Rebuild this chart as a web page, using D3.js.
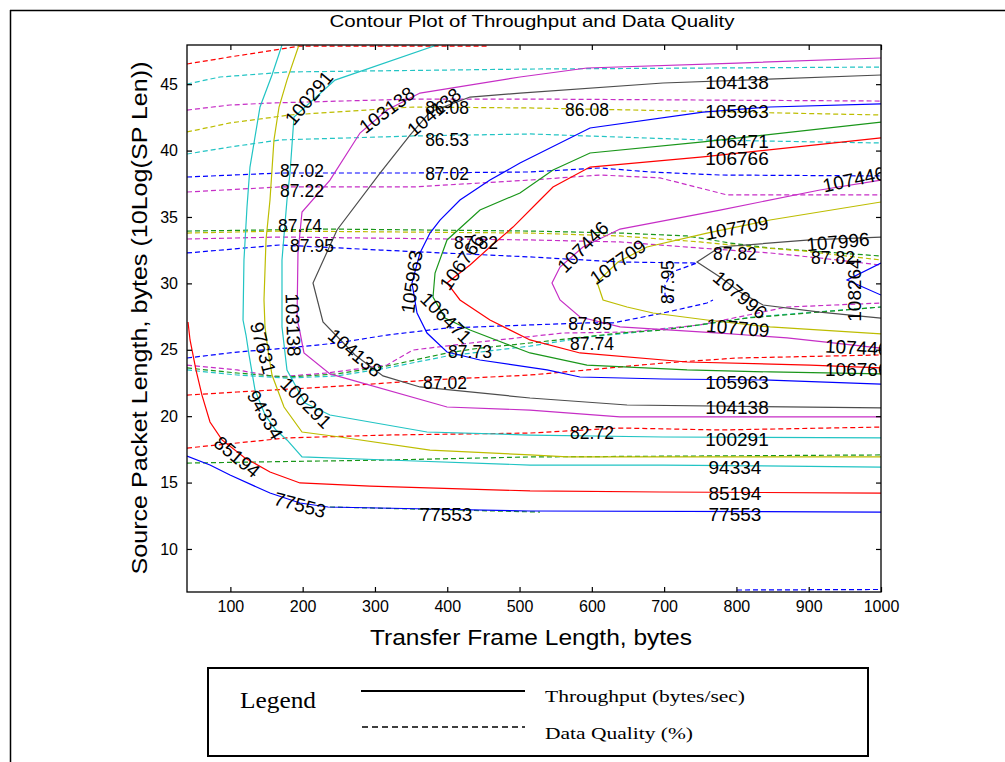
<!DOCTYPE html>
<html><head><meta charset="utf-8">
<script src="https://cdn.jsdelivr.net/npm/d3@7"></script>
<style>body{margin:0;background:#fff}svg{display:block}</style>
</head><body>
<svg id="chart" width="1005" height="762"></svg>
<script>
// ---------------- data ----------------
const xDomain = [40, 1000];
const yDomain = [6.76, 47.95];
const xTicks = [100, 200, 300, 400, 500, 600, 700, 800, 900, 1000];
const yTicks = [10, 15, 20, 25, 30, 35, 40, 45];

// throughput contours (solid) [TF length, 10log(SP len)]
const tp77553 = [[40,17.00],[71.8,16.32],[99.5,15.57],[154.8,14.21],[196.3,13.46],[235.0,13.16],[376.1,13.01],[514.5,12.86],[1000,12.78]];
const tp85194 = [[41.4,27.09],[44.2,25.74],[52.4,23.48],[60.7,21.59],[71.8,19.56],[88.4,18.21],[120.2,16.85],[154.8,15.80],[196.3,14.97],[293.1,14.74],[514.5,14.37],[694.3,14.29],[1000,14.21]];
const tp94334 = [[171.4,47.95],[157.6,45.69],[141.0,43.28],[127.1,38.76],[123.0,35.75],[118.8,31.76],[117.5,27.24],[121.6,26.11],[125.8,24.61],[134.1,21.97],[147.9,20.09],[163.1,18.96],[178.3,18.21],[199.1,16.93],[316.7,16.70],[514.5,16.32],[698.5,16.32],[1000,16.17]];
const tp97631 = [[194.9,47.95],[178.3,45.31],[167.3,43.28],[160.3,40.80],[154.8,36.28],[149.3,33.27],[146.5,28.75],[147.9,26.72],[152.0,24.98],[157.6,23.10],[174.2,20.69],[199.1,18.81],[251.6,18.43],[376.1,17.45],[514.5,17.08],[565.7,16.93],[1000,16.93]];
const tp100291 = [[385.8,47.95],[244.7,45.31],[188.0,42.53],[182.5,38.31],[178.3,36.28],[171.4,31.76],[171.4,26.72],[178.3,23.48],[203.2,20.99],[237.8,20.09],[372.0,18.81],[514.5,18.58],[698.5,18.43],[1000,18.36]];
const tp103138 = [[1000,46.97],[800.8,46.59],[593.3,46.22],[500.6,45.54],[362.3,44.33],[316.7,43.05],[279.3,41.32],[237.8,37.78],[199.1,35.37],[193.5,32.29],[192.2,27.24],[194.9,26.72],[201.8,24.76],[237.8,23.18],[399.7,20.69],[514.5,20.46],[639.0,19.94],[1000,19.94]];
const tp104138 = [[1000,45.69],[698.5,45.09],[500.6,44.33],[431.5,44.03],[376.1,42.90],[348.5,41.17],[307.0,38.31],[247.5,34.02],[214.3,30.03],[228.1,27.09],[272.4,24.61],[311.1,23.03],[362.3,22.20],[514.5,21.37],[648.7,20.84],[1000,20.62]];
const tp105963 = [[1000,43.51],[846.5,43.28],[753.8,42.90],[597.5,41.70],[500.6,39.06],[459.1,37.78],[417.6,36.28],[390.0,34.77],[376.1,33.79],[362.3,32.29],[351.2,30.03],[358.2,27.77],[372.0,26.26],[399.7,24.83],[445.3,24.23],[538.0,23.48],[583.6,22.95],[698.5,22.80],[846.5,22.72],[1000,22.42]];
const tp106471 = [[1000,42.15],[753.8,40.65],[597.5,39.82],[546.3,38.54],[500.6,36.81],[445.3,35.52],[399.7,33.27],[383.1,30.78],[380.3,28.97],[396.9,27.39],[431.5,26.49],[514.5,24.76],[593.3,23.85],[731.7,23.48],[846.5,23.33],[1000,23.18]];
const tp106766 = [[1000,40.95],[753.8,39.52],[597.5,38.76],[546.3,37.26],[528.3,36.28],[491.0,34.24],[459.1,32.74],[431.5,31.38],[399.7,30.03],[417.6,28.75],[459.1,27.24],[514.5,25.74],[583.6,24.76],[731.7,24.08],[901.8,23.85],[1000,23.63]];
const tp107446 = [[1000,37.78],[915.6,37.03],[777.3,35.52],[639.0,34.09],[587.8,32.74],[556.0,31.23],[544.9,30.03],[556.0,28.75],[583.6,27.47],[639.0,26.72],[777.3,26.26],[870.0,25.89],[1000,25.13]];
const tp107709 = [[1000,36.13],[846.5,34.77],[759.3,33.79],[676.3,32.74],[636.2,31.61],[607.2,30.10],[615.5,28.75],[648.7,28.22],[684.6,27.77],[759.3,27.24],[846.5,26.72],[1000,26.19]];
const tp107996 = [[1000,33.49],[901.8,33.27],[777.3,32.74],[745.5,31.61],[777.3,30.48],[805.0,29.35],[836.8,28.37],[915.6,27.84],[1000,27.39]];
const tp108264 = [[1000,31.53],[953.0,30.25],[1000,29.12]];

// data quality contours (dashed)
const dqTopRed  = [[40,46.52],[99.5,47.05],[196.3,47.87],[455.0,47.87]];
const dqTopCyan = [[40,45.01],[85.6,45.54],[178.3,45.92],[514.5,46.14],[1000,46.29]];
const dqTopMag  = [[40,43.05],[99.5,43.43],[154.8,43.58],[352.6,43.88],[514.5,43.88],[1000,43.73]];
const dq8608  = [[40,41.40],[99.5,42.08],[182.5,42.68],[352.6,43.28],[514.5,43.21],[1000,42.68]];
const dq8653  = [[40,39.74],[99.5,40.27],[168.6,40.80],[352.6,41.10],[514.5,41.25],[753.8,40.80],[1000,40.57]];
const dq8702a = [[40,38.01],[168.6,38.31],[352.6,38.31],[514.5,38.39],[611.3,38.69],[680.5,38.39],[777.3,38.16],[1000,38.09]];
const dq8722  = [[40,36.88],[168.6,37.26],[352.6,37.26],[514.5,37.78],[611.3,38.16],[694.3,37.94],[749.7,37.18],[787.0,36.66],[1000,36.66]];
const dq8773a = [[40,33.94],[237.8,34.09],[514.5,33.94],[639.0,33.79],[731.7,33.57],[791.1,33.04],[846.5,32.66],[1000,32.06]];
const dq8774a = [[40,33.79],[168.6,33.94],[514.5,33.79],[639.0,33.57],[749.7,33.12],[822.9,32.74],[892.1,32.44],[1000,31.76]];
const dq8782a = [[40,33.34],[168.6,33.49],[514.5,33.27],[639.0,33.12],[749.7,32.66],[846.5,32.29],[915.6,31.91],[1000,31.38]];
const dq8795a = [[40,32.29],[168.6,32.89],[307.0,32.51],[514.5,31.99],[639.0,31.61],[745.5,31.53],[710.9,30.86],[701.2,29.88],[701.2,29.12],[715.0,28.60]];
const dq8795b = [[40,24.38],[109.2,24.83],[178.3,25.13],[247.5,25.51],[316.7,26.11],[399.7,26.64],[514.5,26.87],[593.3,27.02],[629.3,27.02],[698.5,27.77],[759.3,28.52],[767.6,28.75]];
const dq8782b = [[40,23.85],[109.2,23.48],[164.5,22.95],[233.7,23.25],[316.7,23.85],[352.6,24.98],[445.3,25.59],[560.1,26.26],[652.8,26.34],[749.7,26.87],[870.0,28.22],[1000,28.52]];
const dq8774b = [[40,23.48],[109.2,23.10],[178.3,22.87],[247.5,23.03],[316.7,23.63],[399.7,24.53],[514.5,25.28],[593.3,25.96],[639.0,26.19],[731.7,26.72],[822.9,27.47],[1000,28.22]];
const dq8773b = [[40,23.63],[109.2,23.25],[178.3,22.95],[247.5,23.18],[316.7,23.78],[399.7,24.76],[445.3,25.13],[514.5,25.51],[639.0,26.26],[698.5,26.49],[814.6,27.39],[1000,28.22]];
const dq8702b = [[40,21.59],[109.2,21.82],[233.7,22.20],[316.7,22.50],[376.1,22.72],[514.5,23.10],[593.3,23.48],[698.5,24.00],[800.8,24.38],[1000,24.61]];
const dq8272  = [[40,17.60],[109.2,17.98],[178.3,18.36],[316.7,18.58],[514.5,18.73],[639.0,19.11],[777.3,18.96],[1000,19.18]];
const dqGreenLow = [[40,16.47],[316.7,16.70],[514.5,16.93],[1000,17.08]];
const dqGreen2   = [[237.8,13.16],[528.3,12.78]];
const dqBlueBottom = [[800.8,6.91],[1000,6.95]];

// contour labels [text, x, y, angle]
const tpLabels = [
  ["100291",208.8,43.96,-50],["103138",316.7,43.05,-37],["104138",381.7,42.90,-40],
  ["105963",351.2,30.10,-82],["106766",420.4,31.61,-55],["106471",398.3,27.39,45],
  ["107446",587.8,32.74,-45],["107709",636.2,31.61,-35],["107709",800.8,34.17,-10],
  ["107996",940.5,33.12,-5],["107996",805.0,29.12,40],["108264",964.0,29.50,-90],
  ["107709",802,26.64,5],
  ["104138",800.8,45.16,0],["105963",800.8,42.98,0],["106471",800.8,40.72,0],["106766",800.8,39.44,0],
  ["105963",800.8,22.50,0],["104138",800.8,20.62,0],["100291",800.8,18.21,0],["94334",798.0,16.10,0],
  ["85194",798.0,14.14,0],["77553",798.0,12.56,0],
  ["103138",186.6,26.87,88],["97631",145.1,25.13,75],["94334",147.9,20.09,60],["100291",204.6,20.99,45],
  ["85194",109.2,16.93,40],["77553",196.3,13.31,15],["77553",398.3,12.56,0],["104138",272.4,24.76,40]
];
const tpEdgeLabels = [["107446",919.8,37.33,-12],["107446",922.6,25.28,3],["106766",922.6,23.48,0]];
const dqLabels = [
  ["87.02",199.1,38.46],["87.22",199.1,36.96],["87.74",196.3,34.32],["87.95",212.9,32.81],
  ["86.08",399.7,43.21],["86.53",399.7,40.80],["87.02",399.7,38.24],["87.82",439.8,33.04],
  ["86.08",593.3,43.05],["87.82",798.0,32.21],["87.82",933.6,31.91],
  ["87.95",597.5,26.94],["87.74",600.2,25.43],["87.73",431.5,24.83],["87.02",396.9,22.50],["82.72",600.2,18.73]
];
const dqRotLabels = [["87.95",705.4,30.10,-90]];

// ---------------- drawing ----------------
const col = {b:"#0000ff", r:"#ff0000", c:"#22c4c4", m:"#c62ec6", y:"#bdbd00", g:"#1a961a", k:"#4d4d4d"};
const solidSeries = [
  [tp77553,"b"],[tp85194,"r"],[tp94334,"c"],[tp97631,"y"],[tp100291,"c"],[tp103138,"m"],[tp104138,"k"],
  [tp105963,"b"],[tp106471,"g"],[tp106766,"r"],[tp107446,"m"],[tp107709,"y"],[tp107996,"k"],[tp108264,"b"]
];
const dashedSeries = [
  [dqGreen2,"g"],[dqTopRed,"r"],[dqTopCyan,"c"],[dqTopMag,"m"],[dq8608,"y"],[dq8653,"c"],[dq8702a,"b"],[dq8722,"m"],
  [dq8773a,"g"],[dq8774a,"y"],[dq8782a,"m"],[dq8795a,"b"],[dq8795b,"b"],[dq8782b,"m"],[dq8774b,"c"],
  [dq8773b,"g"],[dq8702b,"r"],[dq8272,"r"],[dqGreenLow,"g"],[dqBlueBottom,"b"]
];

const svg = d3.select("#chart");
svg.append("rect").attr("width",1005).attr("height",762).attr("fill","#fff");
const L = 187, R = 881, T = 45, B = 592;
const x = d3.scaleLinear().domain(xDomain).range([L, R]);
const y = d3.scaleLinear().domain(yDomain).range([B, T]);

// outer frame
svg.append("line").attr("x1",10).attr("x2",1005).attr("y1",10.5).attr("y2",10.5).attr("stroke","#000").attr("stroke-width",1.5);
svg.append("line").attr("x1",10.5).attr("x2",10.5).attr("y1",10).attr("y2",762).attr("stroke","#000").attr("stroke-width",1.5);

svg.append("clipPath").attr("id","plotclip").append("rect")
  .attr("x",L).attr("y",T).attr("width",R-L).attr("height",B-T);

const line = d3.line().x(d=>x(d[0])).y(d=>y(d[1]));
const plot = svg.append("g").attr("clip-path","url(#plotclip)");

plot.selectAll("path.dq").data(dashedSeries).join("path").attr("class","dq")
  .attr("d",d=>line(d[0])).attr("fill","none").attr("stroke",d=>col[d[1]])
  .attr("stroke-width",1.2).attr("stroke-dasharray","5,3");
plot.selectAll("path.tp").data(solidSeries).join("path").attr("class","tp")
  .attr("d",d=>line(d[0])).attr("fill","none").attr("stroke",d=>col[d[1]])
  .attr("stroke-width",1.2);

const lblFont = "'Liberation Sans', Arial, sans-serif";
const lbl = plot.append("g").attr("font-family",lblFont).attr("font-size",19).attr("fill","#000");
lbl.selectAll("text.t").data(tpLabels).join("text").attr("class","t")
  .attr("text-anchor","middle").attr("dominant-baseline","central")
  .attr("transform",d=>`translate(${x(d[1])},${y(d[2])}) rotate(${d[3]})`).text(d=>d[0]);
lbl.selectAll("text.e").data(tpEdgeLabels).join("text").attr("class","e")
  .attr("text-anchor","start").attr("dominant-baseline","central")
  .attr("transform",d=>`translate(${x(d[1])},${y(d[2])}) rotate(${d[3]})`).text(d=>d[0]);
lbl.selectAll("text.q").data(dqLabels).join("text").attr("class","q")
  .attr("text-anchor","middle").attr("dominant-baseline","central").attr("font-size",17.5)
  .attr("x",d=>x(d[1])).attr("y",d=>y(d[2])).text(d=>d[0]);
lbl.selectAll("text.qr").data(dqRotLabels).join("text").attr("class","qr")
  .attr("text-anchor","middle").attr("dominant-baseline","central").attr("font-size",17.5)
  .attr("transform",d=>`translate(${x(d[1])},${y(d[2])}) rotate(${d[3]})`).text(d=>d[0]);

// axes box
svg.append("rect").attr("x",L).attr("y",T).attr("width",R-L).attr("height",B-T)
  .attr("fill","none").attr("stroke","#000").attr("stroke-width",1.3);

const axFont = "'Liberation Sans', Arial, sans-serif";
const fmt = d3.format("d");
const gx = svg.append("g").attr("transform",`translate(0,${B})`)
  .call(d3.axisBottom(x).tickValues(xTicks).tickFormat(fmt).tickSize(-5).tickSizeOuter(0).tickPadding(9));
const gy = svg.append("g").attr("transform",`translate(${L},0)`)
  .call(d3.axisLeft(y).tickValues(yTicks).tickFormat(fmt).tickSize(-5).tickSizeOuter(0).tickPadding(9));
const gxt = svg.append("g").attr("transform",`translate(0,${T})`)
  .call(d3.axisTop(x).tickValues(xTicks).tickSize(-5).tickSizeOuter(0).tickFormat(""));
const gyr = svg.append("g").attr("transform",`translate(${R},0)`)
  .call(d3.axisRight(y).tickValues(yTicks).tickSize(-5).tickSizeOuter(0).tickFormat(""));
[gx,gy,gxt,gyr].forEach(g=>{
  g.select(".domain").remove();
  g.selectAll(".tick line").attr("stroke","#000").attr("stroke-width",1.2);
  g.selectAll("text").attr("font-family",axFont).attr("font-size",16).attr("fill","#000");
});

// titles
svg.append("text").attr("x",532).attr("y",27).attr("text-anchor","middle")
  .attr("font-family",axFont).attr("font-size",16.5).attr("textLength",405).attr("lengthAdjust","spacingAndGlyphs")
  .text("Contour Plot of Throughput and Data Quality");
svg.append("text").attr("x",531).attr("y",645).attr("text-anchor","middle")
  .attr("font-family",axFont).attr("font-size",22).attr("textLength",322).attr("lengthAdjust","spacingAndGlyphs")
  .text("Transfer Frame Length, bytes");
svg.append("text").attr("transform","translate(147,318) rotate(-90)").attr("text-anchor","middle")
  .attr("font-family",axFont).attr("font-size",22).attr("textLength",513).attr("lengthAdjust","spacingAndGlyphs")
  .text("Source Packet Length, bytes (10Log(SP Len))");

// legend
const serif = "'Liberation Serif', 'Times New Roman', serif";
const lg = svg.append("g");
lg.append("rect").attr("x",208).attr("y",668).attr("width",660).attr("height",88)
  .attr("fill","none").attr("stroke","#000").attr("stroke-width",2);
lg.append("text").attr("x",240).attr("y",708).attr("font-family",serif)
  .attr("font-size",24).attr("textLength",76).attr("lengthAdjust","spacingAndGlyphs").text("Legend");
lg.append("line").attr("x1",361).attr("x2",525).attr("y1",691).attr("y2",691).attr("stroke","#000").attr("stroke-width",2);
lg.append("line").attr("x1",362).attr("x2",525).attr("y1",727).attr("y2",727).attr("stroke","#000").attr("stroke-width",1.5).attr("stroke-dasharray","6,4");
lg.append("text").attr("x",545).attr("y",702).attr("font-family",serif)
  .attr("font-size",17).attr("textLength",200).attr("lengthAdjust","spacingAndGlyphs").text("Throughput (bytes/sec)");
lg.append("text").attr("x",545).attr("y",739).attr("font-family",serif)
  .attr("font-size",17).attr("textLength",148).attr("lengthAdjust","spacingAndGlyphs").text("Data Quality (%)");
</script></body></html>
